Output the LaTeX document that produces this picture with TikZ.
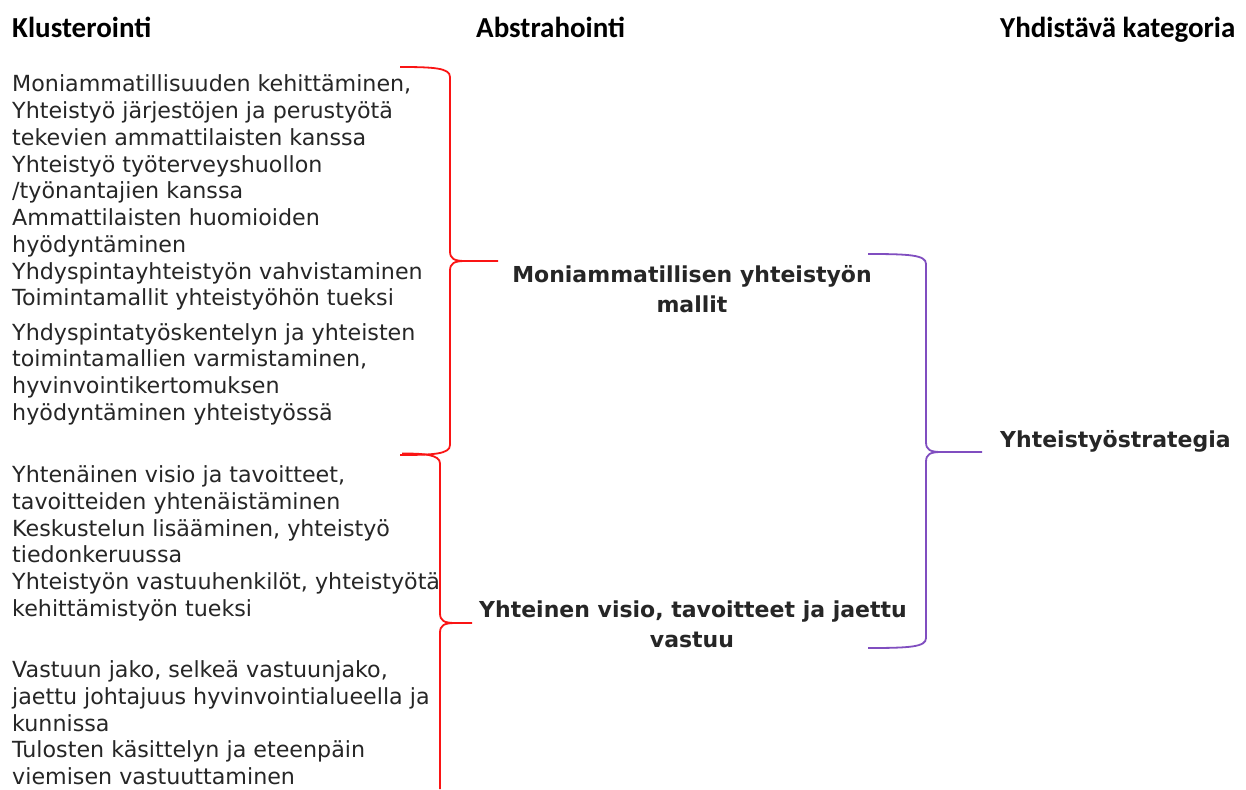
\documentclass[tikz,border=0pt]{standalone}
\usepackage{fontspec}
\setmainfont{DejaVu Sans}
\newfontfamily\headfont{Carlito}
\definecolor{bracered}{RGB}{250,20,20}
\definecolor{bracepurple}{RGB}{128,78,192}
\definecolor{textgray}{RGB}{38,38,38}
\newcommand{\bracedraw}[7]{% style, x0, ytop, xv, ycusp, xtip, ybot
  \draw[#1] (#2,#3) .. controls ({#4-16},#3) and (#4,{#3+1}) .. (#4,{#3+10})
    -- (#4,{#5-10}) .. controls (#4,{#5-2}) and ({#4+4},#5) .. ({#4+16},#5) -- (#6,#5);
  \draw[#1] ({#4+16},#5) .. controls ({#4+4},#5) and (#4,{#5+2}) .. (#4,{#5+10})
    -- (#4,{#7-10}) .. controls (#4,{#7-1}) and ({#4-16},#7) .. (#2,#7);}
\begin{document}
\begin{tikzpicture}[x=1pt,y=-1pt,
  head/.style={anchor=base west,inner sep=0pt,font=\headfont\bfseries\fontsize{29}{34}\selectfont,text=black},
  body/.style={anchor=base west,inner sep=0pt,font=\fontsize{22.2}{26}\selectfont,text=textgray},
  abst/.style={anchor=base,inner sep=0pt,font=\bfseries\fontsize{22}{26}\selectfont,text=textgray},
  redbrace/.style={draw=bracered,line width=1.8pt},
  purplebrace/.style={draw=bracepurple,line width=1.8pt}]
\useasboundingbox[fill=white] (0,0) rectangle (1246,789);

% headers
\node[head] (h1) at (12,38) {Klusterointi};
\node[head] (h2) at (476,38) {Abstrahointi};
\node[head] (h3) at (1000,38) {Yhdistävä kategoria};

% cluster group 1
\node[body] (a1) at (12,92) {Moniammatillisuuden kehittäminen,};
\node[body] (a2) at (12,118.7) {Yhteistyö järjestöjen ja perustyötä};
\node[body] (a3) at (12,145.3) {tekevien ammattilaisten kanssa};
\node[body] (a4) at (12,172) {Yhteistyö työterveyshuollon};
\node[body] (a5) at (12,198.7) {/työnantajien kanssa};
\node[body] (a6) at (12,225.3) {Ammattilaisten huomioiden};
\node[body] (a7) at (12,252) {hyödyntäminen};
\node[body] (a8) at (12,279) {Yhdyspintayhteistyön vahvistaminen};
\node[body] (a9) at (12,305.7) {Toimintamallit yhteistyöhön tueksi};
\node[body] (b1) at (12,340) {Yhdyspintatyöskentelyn ja yhteisten};
\node[body] (b2) at (12,366.7) {toimintamallien varmistaminen,};
\node[body] (b3) at (12,393.3) {hyvinvointikertomuksen};
\node[body] (b4) at (12,420) {hyödyntäminen yhteistyössä};

% cluster group 2
\node[body] (c1) at (12,482.7) {Yhtenäinen visio ja tavoitteet,};
\node[body] (c2) at (12,509.3) {tavoitteiden yhtenäistäminen};
\node[body] (c3) at (12,536) {Keskustelun lisääminen, yhteistyö};
\node[body] (c4) at (12,562.7) {tiedonkeruussa};
\node[body] (c5) at (12,589.3) {Yhteistyön vastuuhenkilöt, yhteistyötä};
\node[body] (c6) at (12,616) {kehittämistyön tueksi};
\node[body] (d1) at (12,677.7) {Vastuun jako, selkeä vastuunjako,};
\node[body] (d2) at (12,704.3) {jaettu johtajuus hyvinvointialueella ja};
\node[body] (d3) at (12,731) {kunnissa};
\node[body] (d4) at (12,757.7) {Tulosten käsittelyn ja eteenpäin};
\node[body] (d5) at (12,784.3) {viemisen vastuuttaminen};

% abstractions
\node[abst] (m1) at (692,282.7) {Moniammatillisen yhteistyön};
\node[abst] (m2) at (692,312.7) {mallit};
\node[abst] (v1) at (693,617.7) {Yhteinen visio, tavoitteet ja jaettu};
\node[abst] (v2) at (692,647.7) {vastuu};

% category
\node[anchor=base west,inner sep=0pt,font=\bfseries\fontsize{22}{26}\selectfont,text=textgray] (k1) at (1000,447.7) {Yhteistyöstrategia};

% braces
\bracedraw{redbrace}{400}{67}{450}{261}{498}{455}
\draw[redbrace] (402,453.5) .. controls (424,453.5) and (440,454.5) .. (440,463.5)
  -- (440,613) .. controls (440,621) and (444,623) .. (456,623) -- (472,623);
\draw[redbrace] (456,623) .. controls (444,623) and (440,625) .. (440,633) -- (440,789);
\bracedraw{purplebrace}{868}{254}{926}{452}{982}{648}
\end{tikzpicture}
\end{document}
